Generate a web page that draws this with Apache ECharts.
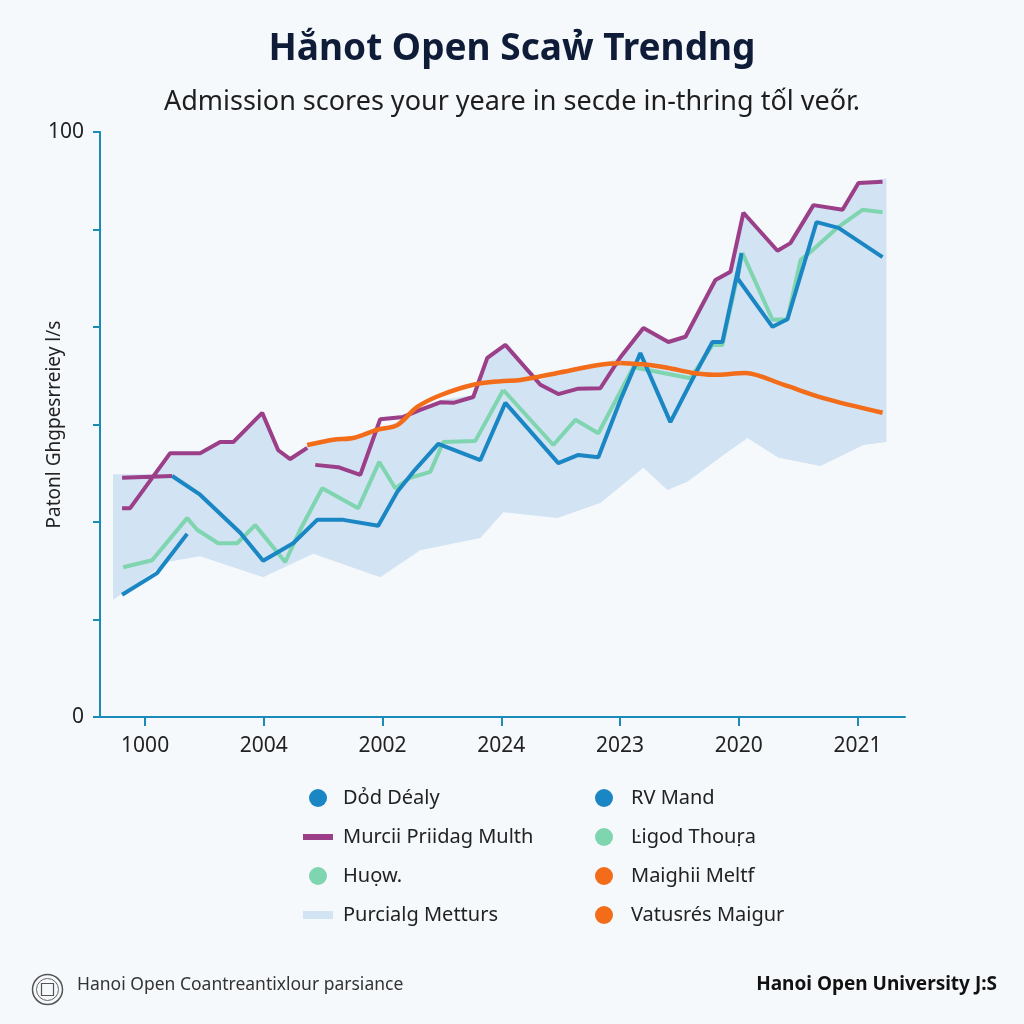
<!DOCTYPE html>
<html>
<head>
<meta charset="utf-8">
<script src="https://cdn.jsdelivr.net/npm/echarts@6/dist/echarts.min.js"></script>
<style>
html,body{margin:0;padding:0;background:#f6f9fc;}
#c{width:1024px;height:1024px;}
</style>
</head>
<body>
<div id="c"></div>
<script>
// ---- tick labels ----
const xTickValues = [0, 10, 20, 30, 40, 50, 60];
const xTickLabels = ['1000', '2004', '2002', '2024', '2023', '2020', '2021'];
const yTickValues = [0, 16.7, 33.3, 50, 66.7, 83.3, 100];
const yLabelValues = [0, 100];

// ---- series names ----
const names = ['Dỏd Déaly', 'Murcii Priidag Multh', 'Huọw.', 'Purcialg Metturs',
               'RV Mand', 'Ŀigod Thouṛa', 'Maighii Meltf', 'Vatusrés Maigur'];

// ---- series values (x position, score) ----
const blueMainX = [2.28, 4.63, 8.01, 9.94, 12.47, 14.49, 16.69, 19.63, 21.24, 22.58, 24.69, 28.23, 30.34, 34.80, 36.49, 38.17, 40.03, 41.71, 44.24, 45.93, 47.78, 48.62, 50.23, 49.89, 52.84, 54.10, 56.55, 58.40, 62.11];
const blueMainY = [41.2, 38.0, 31.5, 26.7, 29.7, 33.7, 33.7, 32.7, 38.5, 41.9, 46.7, 43.9, 53.7, 43.4, 44.8, 44.4, 54.2, 62.2, 50.4, 57.1, 64.1, 64.1, 79.3, 75.0, 66.7, 68.0, 84.6, 83.6, 78.6];

const blueShortX = [-1.94, 1.01, 3.54];
const blueShortY = [20.9, 24.6, 31.3];

const purpleX = [-1.94, 2.28, 0, -1.94, -1.26, 2.11, 4.63, 6.32, 7.42, 9.86, 11.21, 12.22, 13.65, 14.0, 14.33, 16.26, 18.12, 19.80, 21.74, 23.17, 24.86, 25.96, 27.64, 28.82, 30.34, 33.29, 34.80, 36.40, 38.34, 40.03, 41.97, 44.07, 45.51, 48.03, 49.30, 50.39, 53.26, 54.35, 56.29, 58.74, 60.08, 62.11];
const purpleY = [40.9, 41.2, '-', 35.7, 35.7, 45.1, 45.1, 47.0, 47.0, 52.0, 45.6, 44.1, 46.0, '-', 43.1, 42.7, 41.4, 50.9, 51.3, 52.5, 53.8, 53.7, 54.7, 61.4, 63.6, 56.8, 55.2, 56.1, 56.2, 61.5, 66.5, 64.1, 65.0, 74.7, 76.1, 86.2, 79.7, 81.0, 87.5, 86.7, 91.3, 91.5];

const mintAX = [-1.85, 0.59, 3.54, 4.38, 6.15, 7.75, 9.27, 11.80, 13.06, 14.92, 17.95, 19.72, 21.07, 22.33, 24.02, 25.11, 27.81, 30.17];
const mintAY = [25.6, 26.8, 34.0, 32.0, 29.7, 29.7, 32.8, 26.5, 32.0, 39.1, 35.7, 43.6, 39.1, 40.9, 41.9, 47.0, 47.2, 55.9];

const mintBX = [30.17, 34.38, 36.24, 38.17, 41.12, 45.93, 47.78, 48.62, 50.31, 52.84, 54.10, 55.20, 56.04, 58.40, 60.42, 62.11];
const mintBY = [55.9, 46.5, 50.8, 48.5, 59.8, 57.9, 63.6, 63.6, 79.3, 67.9, 68.0, 78.1, 79.5, 83.8, 86.7, 86.3];

const orangeAX = [13.65, 15.84, 17.53, 19.55, 21.24, 22.92, 24.86, 27.64, 29.92, 31.60, 34.72, 38.34, 40.03];
const orangeAY = [46.5, 47.4, 47.7, 49.1, 49.9, 53.0, 55.0, 56.8, 57.4, 57.6, 58.8, 60.2, 60.5];

const orangeBX = [40.03, 42.30, 43.99, 46.18, 47.86, 50.56, 53.76, 57.13, 62.11];
const orangeBY = [60.5, 60.2, 59.7, 58.8, 58.5, 58.8, 56.8, 54.5, 52.0];

const bandUpperX = [-2.70, 0.84, 2.11, 4.63, 6.32, 7.42, 9.86, 11.21, 12.22, 13.65, 15.84, 17.53, 19.55, 21.24, 23.17, 24.86, 27.64, 28.82, 30.34, 33.29, 34.80, 38.34, 40.03, 41.97, 44.07, 45.51, 48.03, 49.30, 50.39, 53.26, 54.35, 56.29, 58.74, 60.08, 62.44];
const bandUpperY = [41.5, 41.5, 45.1, 45.1, 47.0, 47.0, 52.0, 45.6, 44.1, 46.3, 47.4, 47.7, 49.1, 50.4, 52.5, 54.2, 55.0, 61.4, 63.6, 57.6, 58.8, 60.2, 61.5, 66.5, 64.1, 65.0, 74.7, 76.1, 86.2, 79.7, 81.0, 87.5, 86.7, 91.3, 92.1];
const bandLowerX = [-2.70, 1.85, 4.63, 9.94, 14.16, 19.80, 23.17, 28.23, 30.17, 34.72, 38.34, 41.97, 43.99, 45.67, 48.46, 50.73, 53.34, 56.88, 60.51, 62.44];
const bandLowerY = [20.0, 26.5, 27.5, 23.9, 27.9, 23.9, 28.5, 30.6, 35.0, 34.0, 36.6, 42.6, 38.8, 40.2, 44.4, 47.7, 44.3, 42.9, 46.5, 47.0];

const zip = (xs, ys) => xs.map((x, i) => [x, ys[i]]);
const bandPoly = zip(bandUpperX, bandUpperY).concat(zip(bandLowerX, bandLowerY).reverse());

const C = {
  blue: '#1a86c3', purple: '#9b3f88', mint: '#7fd5af', orange: '#f26c19',
  band: '#d2e3f3', axis: '#1b8bb8', text: '#222222', title: '#0e1c38'
};

const lineSeries = (name, data, color, extra) => Object.assign({
  name: name, type: 'line', data: data, showSymbol: false, symbol: 'none',
  lineStyle: { color: color, width: 4 }, itemStyle: { color: color }, z: 3,
  connectNulls: false, animation: false
}, extra || {});

const chart = echarts.init(document.getElementById('c'), null, { renderer: 'canvas' });
const font = "'Noto Sans', 'Open Sans', sans-serif";

chart.setOption({
  backgroundColor: '#f6f9fc',
  animation: false,
  textStyle: { fontFamily: font },
  title: [
    { text: 'Hắnot Open Scaw\u0309 Trendng', left: 'center', top: 26,
      textStyle: { fontSize: 37, fontWeight: 'bold', color: C.title, fontFamily: font } },
    { text: 'Admission scores your yeare in secde in-thring tốl veőr.', left: 'center', top: 84,
      textStyle: { fontSize: 27, fontWeight: 'normal', color: '#1e1e1e', fontFamily: font } }
  ],
  grid: { left: 100, right: 119, top: 132, bottom: 307, containLabel: false },
  xAxis: {
    type: 'value', min: -3.8, max: 64,
    axisLine: { show: true, onZero: false, lineStyle: { color: C.axis, width: 2 } },
    axisTick: { show: true, customValues: xTickValues, length: 9, lineStyle: { color: C.axis, width: 2 } },
    axisLabel: { customValues: xTickValues, margin: 19, fontSize: 21, color: C.text,
      formatter: v => xTickLabels[Math.round(v / 10)] },
    splitLine: { show: false }
  },
  yAxis: {
    type: 'value', min: 0, max: 100,
    name: 'Patonl Ghgpesrreiey l/s', nameLocation: 'middle', nameGap: 36, nameMoveOverlap: false,
    nameTextStyle: { fontSize: 19, color: C.text },
    axisLine: { show: true, onZero: false, lineStyle: { color: C.axis, width: 2 } },
    axisTick: { show: true, customValues: yTickValues, length: 7, lineStyle: { color: C.axis, width: 2 } },
    axisLabel: { customValues: yLabelValues, margin: 16, fontSize: 21, color: C.text },
    splitLine: { show: false }
  },
  legend: [
    { left: 298, top: 783, orient: 'vertical', itemGap: 19, itemWidth: 30, itemHeight: 18,
      textStyle: { fontSize: 20, color: C.text, padding: [0, 0, 0, 5] },
      data: [
        { name: names[0], icon: 'circle' },
        { name: names[1], icon: 'path://M0,0h30v6h-30z' },
        { name: names[2], icon: 'circle' },
        { name: names[3], icon: 'path://M0,0h30v8h-30z' }
      ] },
    { left: 590, top: 783, orient: 'vertical', itemGap: 19, itemWidth: 30, itemHeight: 18,
      textStyle: { fontSize: 20, color: C.text, padding: [0, 0, 0, 7] },
      data: [
        { name: names[4], icon: 'circle' },
        { name: names[5], icon: 'circle' },
        { name: names[6], icon: 'circle' },
        { name: names[7], icon: 'circle' }
      ] }
  ],
  series: [
    {
      name: names[3], type: 'custom', z: 1, animation: false,
      itemStyle: { color: C.band },
      data: bandPoly,
      renderItem: function (params, api) {
        if (params.dataIndex !== 0) return null;
        const pts = bandPoly.map(p => api.coord(p));
        return { type: 'polygon', shape: { points: pts }, style: { fill: C.band } };
      }
    },
    lineSeries(names[1], zip(purpleX, purpleY), C.purple),
    lineSeries(names[2], zip(mintAX, mintAY), C.mint),
    lineSeries(names[5], zip(mintBX, mintBY), C.mint),
    lineSeries(names[0], zip(blueMainX, blueMainY), C.blue),
    lineSeries(names[4], zip(blueShortX, blueShortY), C.blue),
    lineSeries(names[6], zip(orangeAX, orangeAY), C.orange, { smooth: 0.3, lineStyle: { color: C.orange, width: 4.5 } }),
    lineSeries(names[7], zip(orangeBX, orangeBY), C.orange, { smooth: 0.3, lineStyle: { color: C.orange, width: 4.5 } })
  ],
  graphic: [
    { type: 'circle', left: 30, top: 972, shape: { r: 15 }, style: { fill: 'none', stroke: '#555', lineWidth: 1.5 } },
    { type: 'circle', left: 34, top: 976, shape: { r: 11 }, style: { fill: 'none', stroke: '#666', lineWidth: 1 } },
    { type: 'rect', left: 39, top: 981, shape: { width: 12, height: 12 }, style: { fill: 'none', stroke: '#555', lineWidth: 1.2 } },
    { type: 'text', left: 77, top: 976, style: { text: 'Hanoi Open Coantreantixlour parsiance', fontSize: 17.5, fill: '#333', fontFamily: font } },
    { type: 'text', right: 27, top: 975, style: { text: 'Hanoi Open University J:S', fontSize: 19, fontWeight: 'bold', fill: '#111', fontFamily: font } }
  ]
});
</script>
</body>
</html>
